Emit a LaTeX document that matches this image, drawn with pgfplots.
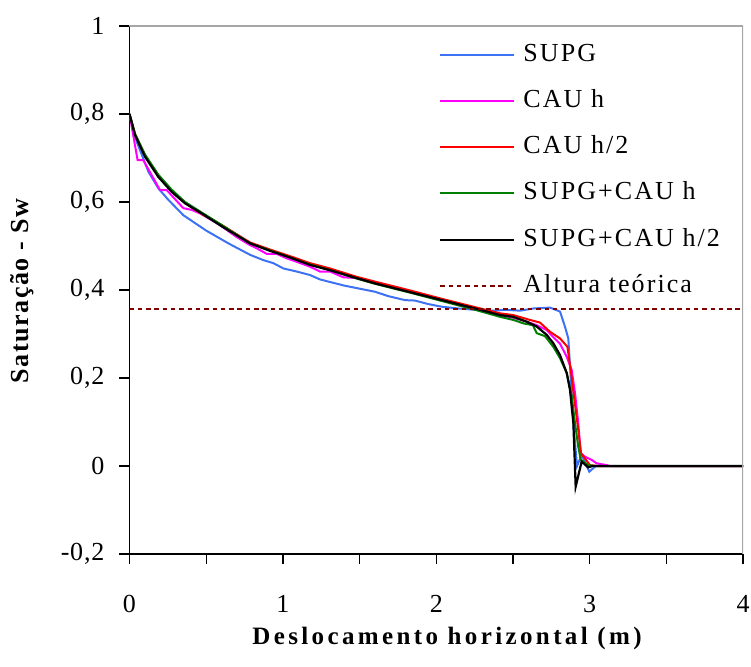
\documentclass[border=0pt]{standalone}
\usepackage{fontspec}
\setmainfont{Liberation Serif}
\newfontfamily\tickfont{Liberation Serif}[LetterSpace=3]
\newfontfamily\legfont{Liberation Serif}[LetterSpace=8]
\newfontfamily\xlabfont{Liberation Serif}[LetterSpace=13.5]
\newfontfamily\ylabfont{Liberation Serif}[LetterSpace=6]
\usepackage{pgfplots}
\pgfplotsset{compat=1.18}
\definecolor{supg}{HTML}{3D72F5}
\definecolor{cauh}{HTML}{FF00FF}
\definecolor{cauhh}{HTML}{FF0000}
\definecolor{sc}{HTML}{008000}
\definecolor{alt}{HTML}{800000}
\definecolor{frm}{HTML}{A6A6A6}
\begin{document}
\begin{tikzpicture}
\begin{axis}[
  scale only axis, width=613.5pt, height=528pt,
  xmin=0, xmax=4, ymin=-0.2, ymax=1,
  axis lines=left, axis line style={-, black, line width=1.5pt},
  tick align=outside, major tick length=10pt, minor tick length=10pt,
  tick style={black, line width=1.3pt},
  xtick={0,1,2,3,4}, minor xtick={0.5,1.5,2.5,3.5},
  ytick={-0.2,0,0.2,0.4,0.6,0.8,1}, minor ytick={},
  /pgf/number format/assume math mode=true,
  /pgf/number format/use comma,
  ticklabel style={font=\fontsize{26}{30}\selectfont\tickfont},
  xticklabel style={anchor=base, inner sep=0pt, yshift=-48pt},
  yticklabel style={anchor=east, inner sep=0pt, xshift=-15pt},
  xlabel={\bfseries Deslocamento horizontal (m)},
  xlabel style={font=\fontsize{25}{30}\selectfont\xlabfont, at={(axis description cs:0.5175,0)}, anchor=base, yshift=-90pt},
  ylabel={\bfseries Saturação - Sw},
  ylabel style={font=\fontsize{26}{30}\selectfont\ylabfont, at={(axis description cs:-0.1654,0.498)}, anchor=base, rotate=0},
  legend cell align=left,
  legend image code/.code={\draw[#1] (0pt,0pt) -- (74pt,0pt);},
  legend style={draw=none, fill=none, at={(axis description cs:0.5045,0.968)}, anchor=north west,
    font=\fontsize{26}{30}\selectfont\legfont, inner sep=0pt, row sep=23.3pt,
    nodes={inner sep=0pt, text height=18pt, text depth=5pt},
    /tikz/every odd column/.append style={column sep=8pt}},
]
\addplot[supg, line width=2pt] coordinates {
(0,0.8) (0.047,0.737) (0.123,0.669) (0.188,0.631) (0.253,0.605) (0.351,0.570)
(0.5,0.535) (0.65,0.505) (0.786,0.48) (0.872,0.468) (0.938,0.461) (1.003,0.449)
(1.09,0.442) (1.177,0.434) (1.242,0.424) (1.4,0.41) (1.601,0.396) (1.688,0.386)
(1.796,0.377) (1.861,0.376) (1.948,0.368) (2.036,0.362) (2.144,0.358) (2.253,0.355)
(2.383,0.353) (2.448,0.355) (2.547,0.353) (2.633,0.358) (2.742,0.360) (2.807,0.351)
(2.839,0.317) (2.861,0.29) (2.877,0.2) (2.898,0.08) (2.918,0.0) (2.948,0.025)
(2.998,-0.013) (3.04,0) (4,0)};
\addlegendentry{SUPG}
\addplot[cauh, line width=2pt] coordinates {
(0,0.8) (0.053,0.695) (0.09,0.695) (0.199,0.627) (0.243,0.627) (0.351,0.586)
(0.406,0.582) (0.46,0.574) (0.58,0.55) (0.7,0.52) (0.786,0.502) (0.829,0.495)
(0.895,0.482) (0.960,0.482) (1.025,0.472) (1.091,0.464) (1.177,0.453) (1.242,0.442)
(1.307,0.442) (1.394,0.429) (1.481,0.427) (1.601,0.418) (1.818,0.399) (2.036,0.378)
(2.253,0.357) (2.416,0.342) (2.502,0.337) (2.590,0.328) (2.655,0.320) (2.720,0.309)
(2.763,0.293) (2.807,0.278) (2.851,0.248) (2.883,0.218) (2.905,0.165) (2.926,0.097)
(2.942,0.029) (2.970,0.021) (3.013,0.014) (3.046,0.006) (3.111,0.002) (3.133,0) (4,0)};
\addlegendentry{CAU h}
\addplot[cauhh, line width=2pt] coordinates {
(0,0.8) (0.036,0.755) (0.101,0.705) (0.188,0.66) (0.275,0.625) (0.362,0.598)
(0.471,0.573) (0.6,0.548) (0.786,0.508) (0.916,0.492) (1.046,0.477) (1.177,0.461)
(1.307,0.449) (1.481,0.43) (1.601,0.419) (1.818,0.4) (2.036,0.38) (2.253,0.361)
(2.416,0.347) (2.502,0.343) (2.611,0.332) (2.676,0.326) (2.742,0.305) (2.807,0.29)
(2.855,0.271) (2.877,0.218) (2.898,0.158) (2.926,0.082) (2.944,0.029) (3.002,0.002)
(3.05,0) (4,0)};
\addlegendentry{CAU h/2}
\addplot[sc, line width=2pt] coordinates {
(0,0.8) (0.036,0.755) (0.101,0.708) (0.188,0.662) (0.275,0.628) (0.362,0.6)
(0.471,0.576) (0.6,0.548) (0.786,0.506) (0.916,0.49) (1.046,0.474) (1.177,0.458)
(1.307,0.445) (1.481,0.426) (1.601,0.414) (1.818,0.395) (2.036,0.375) (2.253,0.355)
(2.416,0.339) (2.502,0.332) (2.57,0.324) (2.63,0.32) (2.655,0.302) (2.709,0.295)
(2.763,0.271) (2.807,0.245) (2.851,0.211) (2.883,0.158) (2.905,0.097) (2.926,0.044)
(2.942,0.014) (2.959,0.010) (2.991,0.002) (3.03,0) (4,0)};
\addlegendentry{SUPG+CAU h}
\addplot[black, line width=2.2pt] coordinates {
(0,0.8) (0.036,0.752) (0.101,0.703) (0.188,0.657) (0.275,0.623) (0.362,0.597)
(0.471,0.574) (0.6,0.545) (0.786,0.506) (0.916,0.489) (1.046,0.474) (1.177,0.457)
(1.307,0.445) (1.481,0.427) (1.601,0.415) (1.818,0.396) (2.036,0.377) (2.253,0.358)
(2.416,0.343) (2.502,0.339) (2.590,0.328) (2.655,0.317) (2.720,0.298) (2.763,0.279)
(2.807,0.252) (2.851,0.211) (2.872,0.173) (2.894,0.097) (2.909,-0.047) (2.948,0.010)
(2.99,-0.003) (3.02,0) (4,0)};
\addlegendentry{SUPG+CAU h/2}
\addplot[alt, line width=2pt, dash pattern=on 4.5pt off 3.8pt] coordinates {(0,0.3575) (4,0.3575)};
\addlegendentry{Altura teórica}
\draw[frm, line width=1.5pt] (rel axis cs:0,1) -- (rel axis cs:1,1) -- (rel axis cs:1,0);
\end{axis}
\pgfresetboundingbox
\path[use as bounding box] (-129.5pt,-112pt) rectangle (621.5pt,554pt);
\end{tikzpicture}
\end{document}
